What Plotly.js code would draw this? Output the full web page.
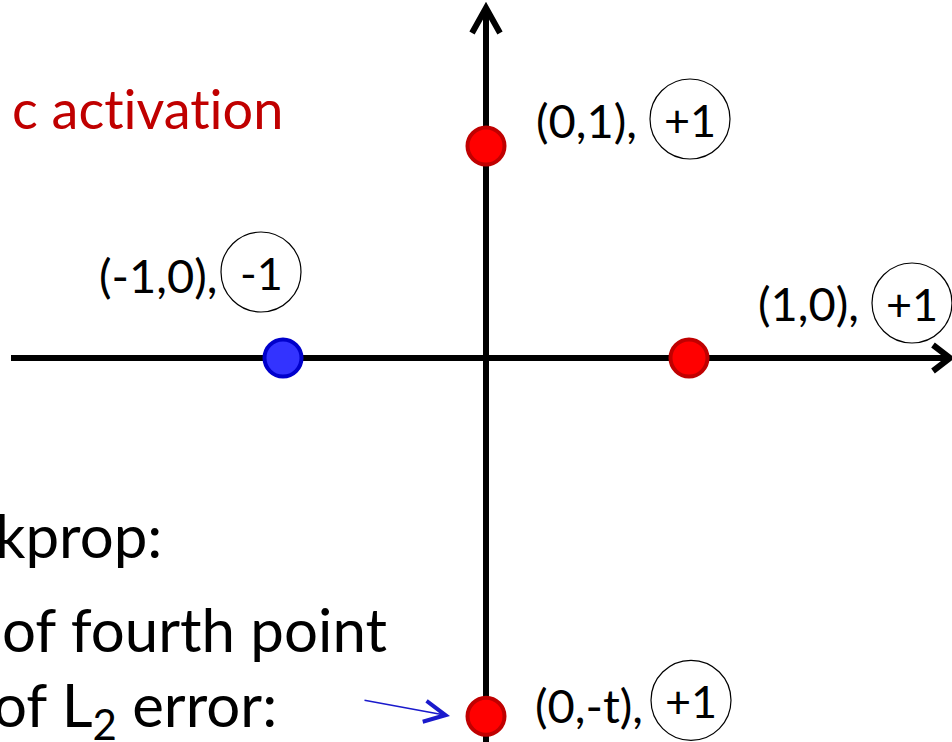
<!DOCTYPE html>
<html>
<head>
<meta charset="utf-8">
<script src="https://cdn.plot.ly/plotly-3.0.1.min.js"></script>
<style>
  html, body { margin: 0; padding: 0; background: #fff; }
  #plot { width: 952px; height: 742px; }
  /* Lato joins "ti" by default, the slide does not */
  #plot svg text { font-variant-ligatures: none; font-feature-settings: "liga" 0, "clig" 0; }
</style>
</head>
<body>
<div id="plot"></div>
<script>
// the four training points (t is about 1.69 units)
const t = 1.69;
const pointX = [0, -1, 1, 0];
const pointY = [1, 0, 0, -t];
const pointLabels = ['(0,1),', '(-1,0),', '(1,0),', '(0,-t),'];
const pointClasses = ['+1', '-1', '+1', '+1'];

const W = 952, H = 742;
// where the origin sits on the page and how many px one unit is
const originPx = [486, 358];
const unitPx = [203, 212];

// label placement relative to each point, in px (right / up)
const labelShift = [[48, 26], [-186, 83], [67, 55], [47, 11]];
const circleShift = [[204, 27], [-22, 86], [223, 55], [205, 16]];
const circleR = 40;

const toPaper = (px, py) => [px / W, 1 - py / H];

const fillColors = pointClasses.map(c => c === '-1' ? '#3333ff' : '#ff0000');
const edgeColors = pointClasses.map(c => c === '-1' ? '#0000cc' : '#c00000');

const trace = {
  x: pointX,
  y: pointY,
  type: 'scatter',
  mode: 'markers',
  marker: {
    size: 37,
    color: fillColors,
    line: { color: edgeColors, width: 4 }
  },
  hoverinfo: 'skip',
  cliponaxis: false
};

const labelFont = { family: 'Lato, Open Sans, sans-serif', size: 47, color: '#000' };
const classFont = { family: 'Lato, Open Sans, sans-serif', size: 45, color: '#000' };
const bodyFont = { family: 'Lato, Open Sans, sans-serif', size: 60, color: '#000' };

const annotations = [];
const shapes = [];

pointX.forEach((x, i) => {
  annotations.push({
    x: x, y: pointY[i], xref: 'x', yref: 'y',
    text: pointLabels[i], showarrow: false,
    xanchor: 'left', yanchor: 'middle',
    xshift: labelShift[i][0], yshift: labelShift[i][1],
    font: labelFont
  });
  annotations.push({
    x: x, y: pointY[i], xref: 'x', yref: 'y',
    text: pointClasses[i], showarrow: false,
    xanchor: 'center', yanchor: 'middle',
    xshift: circleShift[i][0], yshift: circleShift[i][1] - 1,
    font: classFont
  });
  shapes.push({
    type: 'circle', xref: 'x', yref: 'y',
    xsizemode: 'pixel', ysizemode: 'pixel',
    xanchor: x, yanchor: pointY[i],
    x0: circleShift[i][0] - circleR, x1: circleShift[i][0] + circleR,
    y0: circleShift[i][1] - circleR, y1: circleShift[i][1] + circleR,
    line: { color: '#000', width: 1.2 },
    layer: 'above'
  });
});

// axes with open arrow heads
const axisLine = { color: '#000', width: 6 };
const topY = toPaper(0, 7)[1];
shapes.push({ type: 'line', xref: 'x', yref: 'paper', x0: 0, x1: 0, y0: 0, y1: topY, line: axisLine, layer: 'below' });
shapes.push({ type: 'line', xref: 'paper', yref: 'y', x0: 11 / W, x1: 950 / W, y0: 0, y1: 0, line: axisLine, layer: 'below' });

const pathFrom = pts => pts.map((p, i) => {
  const q = toPaper(p[0], p[1]);
  return (i ? 'L' : 'M') + q[0].toFixed(5) + ',' + q[1].toFixed(5);
}).join(' ');

shapes.push({ type: 'path', xref: 'paper', yref: 'paper', path: pathFrom([[472, 33], [486, 8], [500, 33]]), line: axisLine, layer: 'below' });
shapes.push({ type: 'path', xref: 'paper', yref: 'paper', path: pathFrom([[933, 345], [950, 358], [933, 371]]), line: axisLine, layer: 'below' });

// slide text that is cut off at the left edge
const sideText = [
  { text: 'c activation', right: 286, mid: 109, font: { family: 'Lato, sans-serif', size: 54, color: '#c00000' } },
  { text: 'kprop:', right: 164, mid: 535, font: bodyFont },
  { text: 'of fourth point', right: 389, mid: 629, font: bodyFont },
  { text: 'of L<sub>2</sub> error:', right: 279, mid: 708, font: bodyFont }
];
sideText.forEach(s => {
  const p = toPaper(s.right, s.mid);
  annotations.push({
    x: p[0], y: p[1], xref: 'paper', yref: 'paper',
    text: s.text, showarrow: false,
    xanchor: 'right', yanchor: 'middle',
    font: s.font
  });
});

// little blue pointer to the fourth point
const head = toPaper(450, 716);
annotations.push({
  x: head[0], y: head[1], xref: 'paper', yref: 'paper',
  text: '', showarrow: true,
  axref: 'pixel', ayref: 'pixel', ax: -87, ay: -16,
  arrowhead: 5, arrowsize: 2.6, arrowwidth: 1.6, arrowcolor: '#1a1acc'
});

const layout = {
  width: W,
  height: H,
  margin: { l: 0, r: 0, t: 0, b: 0 },
  paper_bgcolor: '#fff',
  plot_bgcolor: '#fff',
  showlegend: false,
  hovermode: false,
  xaxis: {
    range: [-originPx[0] / unitPx[0], (W - originPx[0]) / unitPx[0]],
    visible: false, fixedrange: true
  },
  yaxis: {
    range: [-(H - originPx[1]) / unitPx[1], originPx[1] / unitPx[1]],
    visible: false, fixedrange: true
  },
  shapes: shapes,
  annotations: annotations
};

Plotly.newPlot('plot', [trace], layout, { displayModeBar: false, staticPlot: true });
</script>
</body>
</html>
